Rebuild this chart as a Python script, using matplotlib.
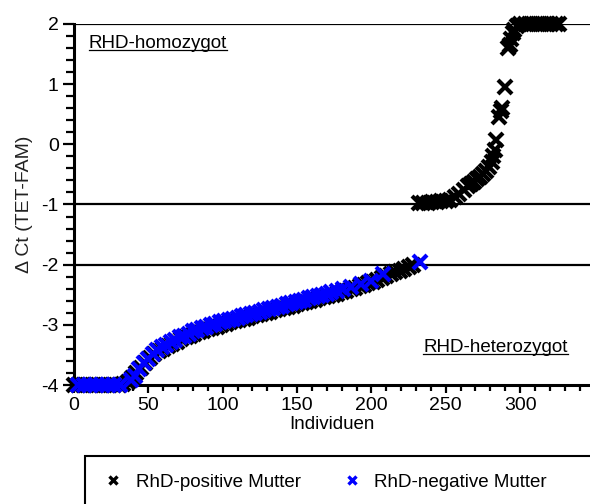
import matplotlib
matplotlib.use('Agg')
import matplotlib.pyplot as plt
from matplotlib.ticker import MultipleLocator
from matplotlib.patches import Rectangle
from matplotlib.lines import Line2D

plt.rcParams['font.family'] = ['Liberation Sans', 'DejaVu Sans']
plt.rcParams['axes.unicode_minus'] = False

# RhD-positive Muetter (schwarz): Individuum, Delta Ct
pos_x = [0, 3, 6, 9, 12, 15, 18, 21, 24, 27, 30, 33, 36, 39, 42, 45, 48, 51, 54, 57,
         60, 63, 66, 69, 72, 75, 78, 81, 84, 87, 90, 93, 96, 99, 102, 105, 108, 111, 114, 117,
         120, 123, 126, 129, 132, 135, 138, 141, 144, 147, 150, 153, 156, 159, 162, 165, 168, 171, 174, 177,
         180, 183, 186, 189, 192, 195, 198, 201, 204, 207, 210, 213, 216, 219, 222, 225, 228,
         232, 235, 238, 241, 244, 247, 250, 253, 256, 259, 262, 265, 267, 269, 271, 273, 275, 277, 279,
         281, 282, 283, 284, 286, 287, 288, 290, 292, 293, 294, 295, 296, 298, 300, 303, 306, 309, 312,
         315, 318, 321, 324, 326]
pos_y = [-4.0, -4.0, -4.0, -4.0, -4.0, -4.0, -4.0, -4.0, -4.0, -4.0, -4.0, -3.98, -3.95, -3.88, -3.80, -3.72, -3.63, -3.55, -3.49, -3.44,
         -3.40, -3.36, -3.32, -3.28, -3.24, -3.21, -3.18, -3.15, -3.12, -3.10, -3.07, -3.05, -3.03, -3.00, -2.98, -2.96, -2.94, -2.92, -2.90, -2.88,
         -2.86, -2.84, -2.82, -2.80, -2.78, -2.76, -2.74, -2.72, -2.70, -2.68, -2.66, -2.64, -2.62, -2.60, -2.58, -2.56, -2.54, -2.52, -2.50, -2.48,
         -2.45, -2.43, -2.41, -2.38, -2.36, -2.34, -2.31, -2.28, -2.25, -2.22, -2.19, -2.16, -2.13, -2.10, -2.07, -2.04, -2.01,
         -0.97, -0.98, -0.97, -0.96, -0.96, -0.95, -0.94, -0.92, -0.88, -0.82, -0.76, -0.70, -0.66, -0.62, -0.58, -0.54, -0.50, -0.45, -0.38,
         -0.30, -0.20, -0.10, 0.07, 0.45, 0.55, 0.60, 0.95, 1.60, 1.65, 1.75, 1.85, 1.90, 1.97, 2.0, 2.0, 2.0, 2.0, 2.0,
         2.0, 2.0, 2.0, 2.0, 2.0]

# RhD-negative Muetter (blau)
neg_x = [3, 7, 11, 15, 19, 23, 27, 31, 38, 41, 44, 47, 50, 53, 56, 59, 62, 65, 68, 71,
         74, 77, 80, 83, 86, 89, 92, 95, 98, 101, 104, 107, 110, 113, 116, 119, 122, 125, 128, 131,
         134, 137, 140, 143, 146, 149, 152, 155, 158, 161, 164, 167, 170, 173, 177, 181, 186, 193, 200, 208,
         233]
neg_y = [-4.0, -4.0, -4.0, -4.0, -4.0, -4.0, -4.0, -4.0, -3.92, -3.85, -3.74, -3.64, -3.56, -3.48, -3.42, -3.37, -3.33, -3.29, -3.25, -3.21,
         -3.18, -3.15, -3.11, -3.08, -3.06, -3.03, -3.01, -2.99, -2.96, -2.94, -2.92, -2.90, -2.88, -2.86, -2.84, -2.82, -2.80, -2.78, -2.76, -2.74,
         -2.72, -2.70, -2.68, -2.66, -2.64, -2.62, -2.60, -2.58, -2.56, -2.54, -2.52, -2.50, -2.48, -2.46, -2.43, -2.40, -2.37, -2.32, -2.27, -2.15,
         -1.95]

fig = plt.figure(figsize=(5.9, 5.04), dpi=100)
ax = fig.add_axes([74 / 590, 1 - 385 / 504, (590 - 74) / 590, (385 - 24) / 504])

for yl in [2, -1, -2]:
    ax.axhline(yl, color='black', lw=1.6, zorder=1)

ax.plot(pos_x, pos_y, 'x', color='black', ms=10, mew=3, clip_on=False, zorder=3)
ax.plot(neg_x, neg_y, 'x', color='#0000ff', ms=10, mew=3, clip_on=False, zorder=4)

ax.set_xlim(0, 347)
ax.set_ylim(-4, 2)
ax.spines['top'].set_visible(False)
ax.spines['right'].set_visible(False)
ax.spines['left'].set_linewidth(2.2)
ax.spines['bottom'].set_linewidth(2.2)
ax.xaxis.set_major_locator(MultipleLocator(50))
ax.xaxis.set_minor_locator(MultipleLocator(10))
ax.yaxis.set_major_locator(MultipleLocator(1))
ax.yaxis.set_minor_locator(MultipleLocator(0.2))
ax.tick_params(axis='both', which='major', labelsize=14, width=1.6, direction='out')
ax.tick_params(axis='y', which='major', length=8, pad=3)
ax.tick_params(axis='y', which='minor', length=6, width=1.6)
ax.tick_params(axis='x', which='major', length=6, pad=3)
ax.tick_params(axis='x', which='minor', length=4, width=1.6)

ax.set_xlabel('Individuen', fontsize=13.5, labelpad=1)
ax.set_ylabel('Δ Ct (TET-FAM)', fontsize=14, color='#222222', labelpad=6)

t1 = ax.text(10, 1.6, 'RHD-homozygot', fontsize=13.5, va='baseline', ha='left')
t2 = ax.text(235, -3.45, 'RHD-heterozygot', fontsize=13.5, va='baseline', ha='left')

# Unterstreichung der Beschriftungen
fig.canvas.draw()
for t in [t1, t2]:
    bb = t.get_window_extent()
    x0, yb = ax.transData.transform(t.get_position())
    yy = (yb - 2) / fig.bbox.height
    fig.add_artist(Line2D([bb.x0 / fig.bbox.width, bb.x1 / fig.bbox.width], [yy, yy],
                          color='black', lw=0.9))

# Legende mit Rahmen, der ueber den Rand hinausgeht
fig.add_artist(Rectangle((85 / 590, -0.1), 1.0, 0.1 + 48 / 504, fill=False,
                         lw=1.5, edgecolor='black', transform=fig.transFigure, clip_on=False))
handles = [Line2D([], [], ls='none', marker='x', color='black', ms=5.5, mew=2.4),
           Line2D([], [], ls='none', marker='x', color='#0000ff', ms=5.5, mew=2.4)]
fig.legend(handles, ['RhD-positive Mutter', 'RhD-negative Mutter'], loc='center left',
           bbox_to_anchor=(104 / 590, 1 - 482 / 504), ncol=2, frameon=False, fontsize=13.5,
           handlelength=1.0, handletextpad=0.7, columnspacing=2.2, borderaxespad=0, borderpad=0)

fig.savefig('out.png', dpi=100)
